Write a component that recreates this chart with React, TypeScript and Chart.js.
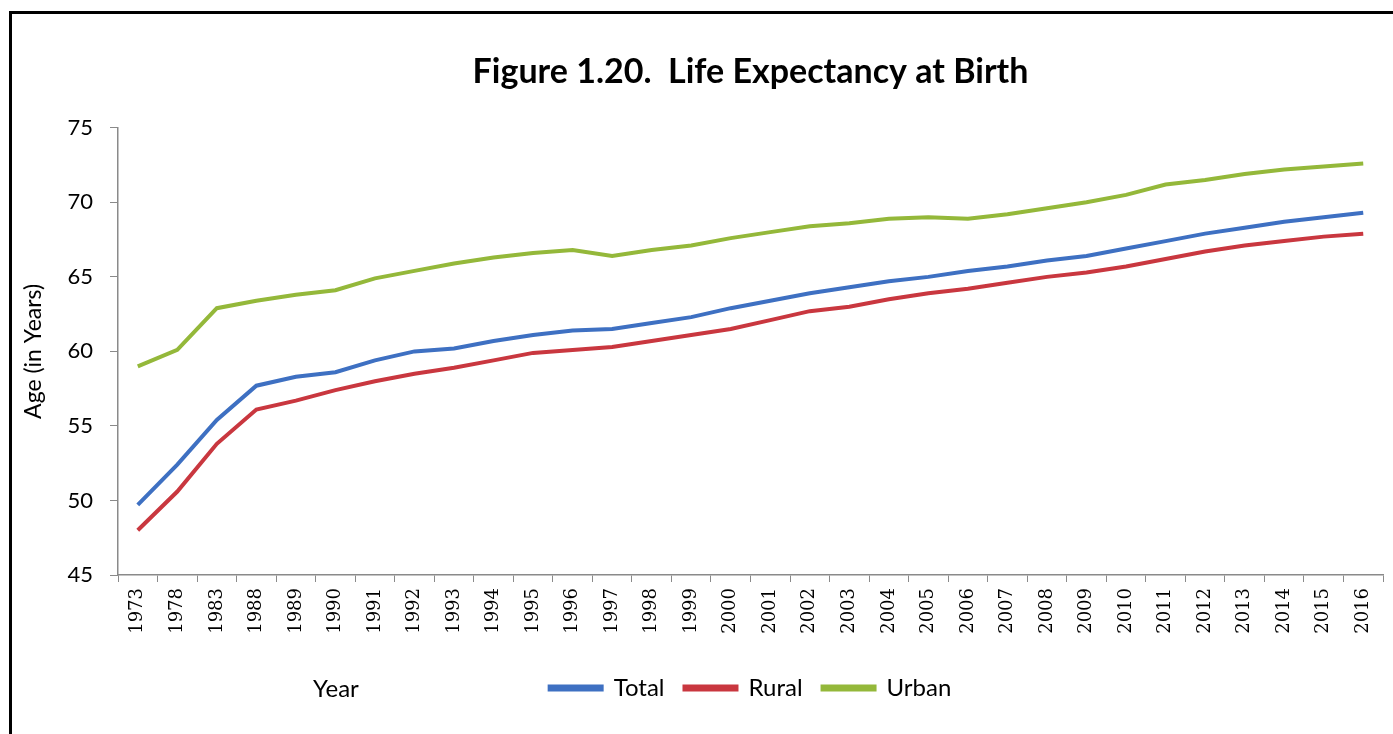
import React, { useEffect, useRef } from "react";
import { Chart, registerables } from "chart.js";

Chart.register(...registerables);

const years = [
  "1973", "1978", "1983", "1988", "1989", "1990", "1991", "1992", "1993", "1994",
  "1995", "1996", "1997", "1998", "1999", "2000", "2001", "2002", "2003", "2004",
  "2005", "2006", "2007", "2008", "2009", "2010", "2011", "2012", "2013", "2014",
  "2015", "2016",
];

const totalValues = [
  49.7, 52.4, 55.4, 57.7, 58.3, 58.6, 59.4, 60.0, 60.2, 60.7,
  61.1, 61.4, 61.5, 61.9, 62.3, 62.9, 63.4, 63.9, 64.3, 64.7,
  65.0, 65.4, 65.7, 66.1, 66.4, 66.9, 67.4, 67.9, 68.3, 68.7,
  69.0, 69.3,
];

const ruralValues = [
  48.0, 50.6, 53.8, 56.1, 56.7, 57.4, 58.0, 58.5, 58.9, 59.4,
  59.9, 60.1, 60.3, 60.7, 61.1, 61.5, 62.1, 62.7, 63.0, 63.5,
  63.9, 64.2, 64.6, 65.0, 65.3, 65.7, 66.2, 66.7, 67.1, 67.4,
  67.7, 67.9,
];

const urbanValues = [
  59.0, 60.1, 62.9, 63.4, 63.8, 64.1, 64.9, 65.4, 65.9, 66.3,
  66.6, 66.8, 66.4, 66.8, 67.1, 67.6, 68.0, 68.4, 68.6, 68.9,
  69.0, 68.9, 69.2, 69.6, 70.0, 70.5, 71.2, 71.5, 71.9, 72.2,
  72.4, 72.6,
];

const yTicks = [45, 50, 55, 60, 65, 70, 75];

const COLORS = {
  total: "#3E70C2",
  rural: "#C9373F",
  urban: "#94B83A",
};

const FONT = "Lato, 'Open Sans', sans-serif";

const yearLabelPlugin = {
  id: "yearLabel",
  afterDraw(chart: any) {
    const { ctx, chartArea } = chart;
    ctx.save();
    ctx.font = `24px ${FONT}`;
    ctx.fillStyle = "#000";
    ctx.textAlign = "center";
    ctx.textBaseline = "middle";
    const x = chartArea.left + 0.1723 * (chartArea.right - chartArea.left);
    const legend = chart.legend;
    const y = legend && legend.legendHitBoxes && legend.legendHitBoxes.length
      ? legend.legendHitBoxes[0].top + legend.legendHitBoxes[0].height / 2
      : 688;
    ctx.fillText("Year", x, y + 1);
    ctx.restore();
  },
};

export default function App() {
  const canvasRef = useRef<HTMLCanvasElement | null>(null);

  useEffect(() => {
    if (!canvasRef.current) return;
    const chart = new Chart(canvasRef.current, {
      type: "line",
      data: {
        labels: years,
        datasets: [
          {
            label: "Total",
            data: totalValues,
            borderColor: COLORS.total,
            backgroundColor: COLORS.total,
            borderWidth: 4,
            pointRadius: 0,
            tension: 0,
          },
          {
            label: "Rural",
            data: ruralValues,
            borderColor: COLORS.rural,
            backgroundColor: COLORS.rural,
            borderWidth: 4,
            pointRadius: 0,
            tension: 0,
          },
          {
            label: "Urban",
            data: urbanValues,
            borderColor: COLORS.urban,
            backgroundColor: COLORS.urban,
            borderWidth: 4,
            pointRadius: 0,
            tension: 0,
          },
        ],
      },
      options: {
        animation: false,
        responsive: false,
        maintainAspectRatio: false,
        layout: {
          padding: { left: 14, right: 10, top: 0, bottom: 24 },
        },
        plugins: {
          title: {
            display: true,
            fullSize: false,
            text: "Figure 1.20.  Life Expectancy at Birth",
            color: "#000",
            font: { family: FONT, size: 34, weight: "bold" },
            padding: { top: 52, bottom: 35 },
          },
          legend: {
            position: "bottom",
            fullSize: false,
            labels: {
              boxWidth: 52,
              boxHeight: 3,
              padding: 20,
              color: "#000",
              font: { family: FONT, size: 24 },
            },
          },
          tooltip: { enabled: false },
        },
        scales: {
          x: {
            type: "category",
            offset: true,
            grid: {
              offset: true,
              drawOnChartArea: false,
              drawTicks: true,
              tickLength: 7,
              color: "#8a8a8a",
            },
            border: { display: true, color: "#8a8a8a", width: 1.5 },
            ticks: {
              autoSkip: false,
              maxRotation: 90,
              minRotation: 90,
              color: "#000",
              padding: 6,
              font: { family: "'DejaVu Serif', serif", size: 18 },
            },
            afterFit(scale: any) {
              scale.height = 81;
            },
          },
          y: {
            min: 45,
            max: 75,
            afterBuildTicks(scale: any) {
              scale.ticks = yTicks.map((v) => ({ value: v }));
            },
            grid: {
              drawOnChartArea: false,
              drawTicks: true,
              tickLength: 8,
              color: "#8a8a8a",
            },
            border: { display: true, color: "#8a8a8a", width: 1.5 },
            ticks: {
              color: "#000",
              padding: 17,
              font: { family: FONT, size: 22 },
            },
            title: {
              display: true,
              text: "Age (in Years)",
              color: "#000",
              font: { family: FONT, size: 23 },
              padding: { top: 6, bottom: 4 },
            },
            afterFit(scale: any) {
              scale.width = 104;
            },
          },
        },
      },
      plugins: [yearLabelPlugin],
    });
    return () => chart.destroy();
  }, []);

  return (
    <div
      style={{
        position: "fixed",
        left: 0,
        top: 0,
        width: 1393,
        height: 734,
        overflow: "hidden",
        background: "#fff",
      }}
    >
      <div
        style={{
          position: "absolute",
          left: 9,
          top: 11,
          width: 1500,
          height: 900,
          borderTop: "3px solid #000",
          borderLeft: "3px solid #000",
        }}
      />
      <canvas
        ref={canvasRef}
        width={1393}
        height={734}
        style={{ position: "absolute", left: 0, top: 0, width: 1393, height: 734 }}
      />
    </div>
  );
}
